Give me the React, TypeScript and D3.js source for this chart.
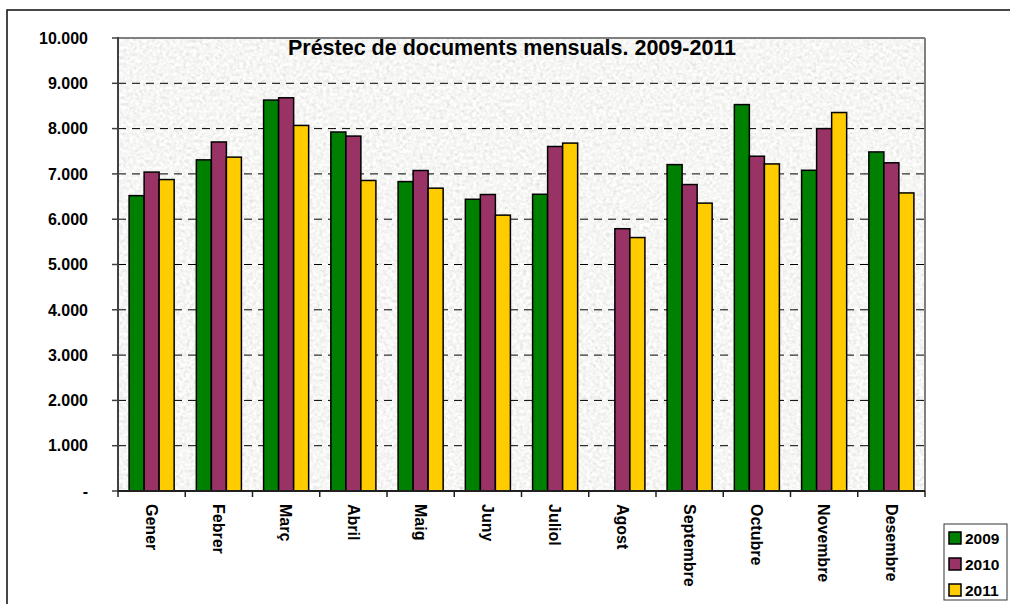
import React from "react";
import * as d3 from "d3";

const months = ["Gener", "Febrer", "Març", "Abril", "Maig", "Juny", "Juliol", "Agost", "Septembre", "Octubre", "Novembre", "Desembre"];
const seriesNames = ["2009", "2010", "2011"];
const values2009: (number | null)[] = [6520, 7310, 8630, 7925, 6830, 6440, 6550, null, 7205, 8530, 7080, 7485];
const values2010: (number | null)[] = [7040, 7705, 8680, 7835, 7075, 6545, 7605, 5790, 6765, 7390, 8000, 7245];
const values2011: (number | null)[] = [6875, 7370, 8070, 6855, 6685, 6090, 7680, 5595, 6355, 7220, 8355, 6580];
const yTicks = [0, 1000, 2000, 3000, 4000, 5000, 6000, 7000, 8000, 9000, 10000];
const colors = ["#008000", "#993366", "#FFCC00"];
const title = "Préstec de documents mensuals. 2009-2011";

const W = 1010, H = 604;
const plot = { left: 118, right: 925, top: 38, bottom: 491 };
const font = "'Liberation Sans', Arial, sans-serif";

function fmt(v: number) {
  if (v === 0) return "-";
  return d3.format(",")(v).replace(/,/g, ".");
}

export default function App() {
  const allSeries = [values2009, values2010, values2011];
  const x = d3.scaleBand<string>().domain(months).range([plot.left, plot.right]).paddingInner(0.33).paddingOuter(0.165);
  const xs = d3.scaleBand<string>().domain(seriesNames).range([0, x.bandwidth()]);
  const y = d3.scaleLinear().domain([0, 10000]).range([plot.bottom, plot.top]);
  const step = (plot.right - plot.left) / months.length;

  return (
    <svg width={W} height={H} style={{ position: "absolute", left: 0, top: 0, background: "#fff" }} fontFamily={font}>
      <defs>
        <filter id="granite" x="0" y="0" width="100%" height="100%">
          <feTurbulence type="fractalNoise" baseFrequency="0.3" numOctaves="3" seed="4" result="n" />
          <feColorMatrix in="n" type="matrix" values="0.33 0.33 0.33 0 0  0.33 0.33 0.33 0 0  0.33 0.33 0.33 0 0  0 0 0 0 1" result="g" />
          <feComponentTransfer in="g">
            <feFuncR type="linear" slope="0.65" intercept="0.60" />
            <feFuncG type="linear" slope="0.65" intercept="0.60" />
            <feFuncB type="linear" slope="0.65" intercept="0.59" />
          </feComponentTransfer>
        </filter>
      </defs>
      <rect x={7} y={10} width={1010} height={610} fill="#fff" stroke="#1a1a1a" strokeWidth={1.6} />
      <rect x={plot.left} y={plot.top} width={plot.right - plot.left} height={plot.bottom - plot.top} fill="#ececea" />
      <rect x={plot.left} y={plot.top} width={plot.right - plot.left} height={plot.bottom - plot.top} filter="url(#granite)" />
      {/* grid lines */}
      {yTicks.filter(t => t > 0 && t < 10000).map(t => (
        <line key={t} x1={plot.left} x2={plot.right} y1={y(t)} y2={y(t)} stroke="#000" strokeWidth={1} strokeDasharray="8,6" />
      ))}
      {/* plot border */}
      <line x1={plot.left} x2={plot.right} y1={plot.top} y2={plot.top} stroke="#808080" strokeWidth={2} />
      <line x1={plot.right} x2={plot.right} y1={plot.top} y2={plot.bottom} stroke="#808080" strokeWidth={2} />
      {/* title */}
      <text x={512} y={55} textAnchor="middle" fontSize={21.5} fontWeight="bold" fill="#000">{title}</text>
      {/* bars */}
      {allSeries.map((vals, si) => (
        <g key={si}>
          {vals.map((v, i) => v == null ? null : (
            <rect key={i}
              x={(x(months[i]) as number) + (xs(seriesNames[si]) as number)}
              y={y(v)}
              width={xs.bandwidth()}
              height={y(0) - y(v)}
              fill={colors[si]} stroke="#000" strokeWidth={1.5} />
          ))}
        </g>
      ))}
      {/* axes */}
      <line x1={plot.left} x2={plot.left} y1={plot.top - 1} y2={plot.bottom} stroke="#404040" strokeWidth={2} />
      <line x1={plot.left - 1} x2={plot.right} y1={plot.bottom} y2={plot.bottom} stroke="#202020" strokeWidth={2} />
      {yTicks.map(t => (
        <g key={t}>
          <line x1={plot.left - 6} x2={plot.left} y1={y(t)} y2={y(t)} stroke="#404040" strokeWidth={1.5} />
          <text x={88} y={y(t)} dy="0.36em" textAnchor="end" fontSize={16} fontWeight="bold" fill="#000">{fmt(t)}</text>
        </g>
      ))}
      {d3.range(months.length + 1).map(i => (
        <line key={i} x1={plot.left + i * step} x2={plot.left + i * step} y1={plot.bottom} y2={plot.bottom + 6} stroke="#202020" strokeWidth={1.5} />
      ))}
      {months.map(m => {
        const cx = (x(m) as number) + x.bandwidth() / 2;
        return (
          <text key={m} transform={`translate(${cx},504) rotate(90)`} dy="0.36em" fontSize={16} fontWeight="bold" fill="#000">{m}</text>
        );
      })}
      {/* legend */}
      <rect x={944} y={524} width={63} height={76} fill="#fff" stroke="#333" strokeWidth={1} />
      {seriesNames.map((s, i) => (
        <g key={s} transform={`translate(949,${532 + i * 26})`}>
          <rect x={0} y={0} width={12} height={12} fill={colors[i]} stroke="#000" strokeWidth={1.5} />
          <text x={16} y={6} dy="0.36em" fontSize={15.5} fontWeight="bold" fill="#000">{s}</text>
        </g>
      ))}
    </svg>
  );
}
